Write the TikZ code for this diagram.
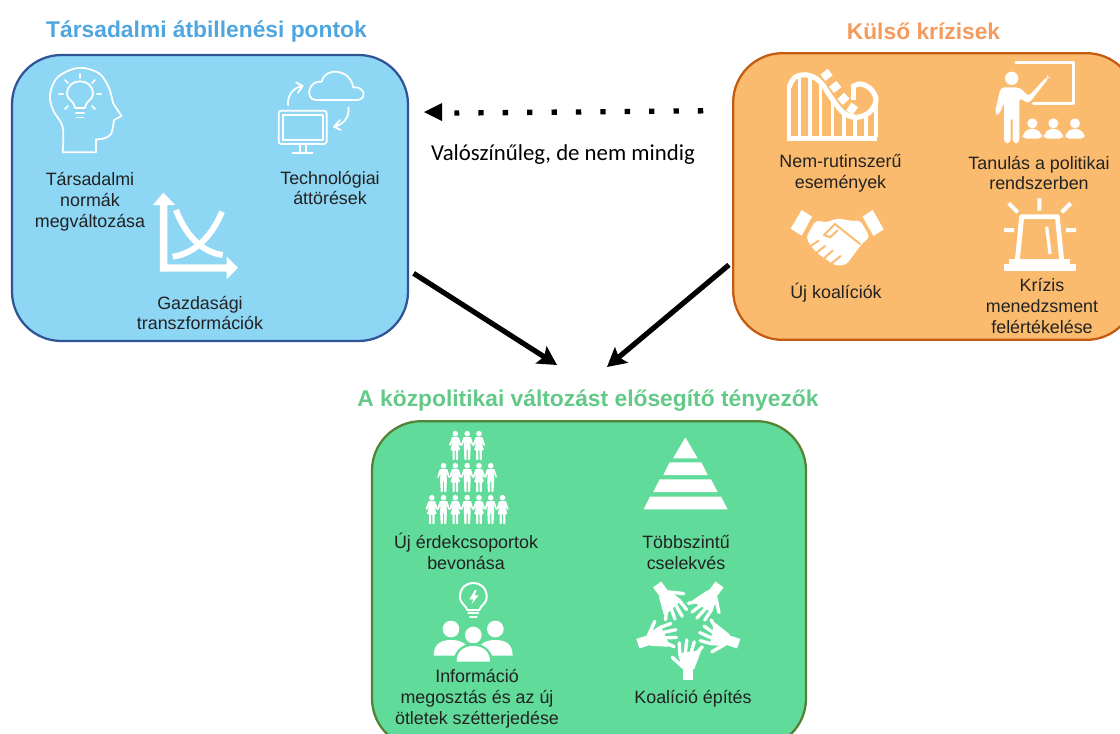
\documentclass[tikz,border=0pt]{standalone}
\usepackage{fontspec}
\setmainfont{Liberation Sans}
\newfontfamily\notefont{Carlito}
\usetikzlibrary{arrows.meta}
\definecolor{bluefill}{HTML}{8DD6F4}
\definecolor{blueline}{HTML}{2F5597}
\definecolor{bluetitle}{HTML}{4FA6DE}
\definecolor{orangefill}{HTML}{FBBB6F}
\definecolor{orangeline}{HTML}{C55A11}
\definecolor{orangetitle}{HTML}{F49A5C}
\definecolor{greenfill}{HTML}{60DB9A}
\definecolor{greenline}{HTML}{548235}
\definecolor{greentitle}{HTML}{62C987}
\definecolor{inktext}{HTML}{222222}
\tikzset{
  panel/.style={draw, line width=1.7pt, rounded corners=37pt},
  heading/.style={font=\fontsize{17.1}{20}\selectfont\bfseries},
  label/.style={align=center, text=inktext, font=\fontsize{13.4}{15.6}\selectfont, inner sep=0pt},
  icon/.style={draw=white, line width=1.3pt, line join=round, line cap=round},
  big arrow/.style={line width=3.9pt, -{Stealth[length=14pt,width=15pt,inset=2.5pt]}},
  zoomed/.style={scale=1/3},
  pics/man/.style={code={
    \fill[white] (0,-12.3) circle[radius=2.8];
    \fill[white, rounded corners=.6pt] (-6.4,-.5) -- (-3.8,-9) -- (3.8,-9) -- (6.4,-.5) -- (5,0) -- (3,-5) -- (3.4,2) -- (2.8,14) -- (.6,14) -- (.6,3) -- (-.6,3) -- (-.6,14) -- (-2.8,14) -- (-3.4,2) -- (-3,-5) -- (-5,0) -- cycle;
  }},
  pics/woman/.style={code={
    \fill[white] (0,-12.3) circle[radius=2.8];
    \fill[white, rounded corners=.6pt] (-6.4,-.5) -- (-3.4,-9) -- (3.4,-9) -- (6.4,-.5) -- (5,0) -- (2.4,-4) -- (5,4) -- (2.8,4) -- (2.8,14) -- (.6,14) -- (.6,4) -- (-.6,4) -- (-.6,14) -- (-2.8,14) -- (-2.8,4) -- (-5,4) -- (-2.4,-4) -- (-5,0) -- cycle;
  }},
  pics/hand/.style={code={
    \fill[white] (-5,41) rectangle (5,53);
    \fill[white, rounded corners=1.5pt] (-5.5,43) -- (-10.5,26) -- (13,23) -- (5.5,43) -- cycle;
    \draw[white, line width=2.5pt, line cap=round] (-8.5,27) -- (-9,15.5) (-3,26) -- (-1.5,12.5) (2.5,26) -- (6,14.5) (9,25) -- (14,19.5);
    \draw[white, line width=2.6pt, line cap=round] (-5,40) -- (-16,30);
  }},
}
\begin{document}
\begin{tikzpicture}[x=.75pt, y=-.75pt]
\useasboundingbox (0,0) rectangle (1120,733);
\clip (0,0) rectangle (1120,733);

% panels
\node (tipping) [panel, draw=blueline, fill=bluefill, minimum width=297pt, minimum height=214.5pt] at (210,198) {};
\node (crisis) [panel, draw=orangeline, fill=orangefill, minimum width=302pt, minimum height=215pt] at (934.5,196.5) {};
\node (policy) [panel, draw=greenline, fill=greenfill, minimum width=325.5pt, minimum height=245pt] at (589,584.5) {};

% headings
\node (tippingtitle) [heading, text=bluetitle] at (206.5,31.5) {Társadalmi átbillenési pontok};
\node (crisistitle) [heading, text=orangetitle] at (923.5,31.5) {Külső krízisek};
\node (policytitle) [heading, text=greentitle] at (588,401) {A közpolitikai változást elősegítő tényezők};

% connectors
\coordinate (goalleft) at (557,365);
\coordinate (goalright) at (607,367);
\draw[line width=4pt, dash pattern=on 4pt off 14.3pt, shorten <=21.6pt, shorten >=34pt] (crisis.157.2) -- (tipping.23.4);
\fill (442,103) -- (442,121) -- (424,112) -- cycle;
\node (maybe) [text=black, font=\notefont\fontsize{17.1}{19}\selectfont, inner sep=0pt] at (563,155) {Valószínűleg, de nem mindig};
\draw[big arrow, shorten <=4pt] (tipping.-20.7) -- (goalleft);
\draw[big arrow, shorten <=3pt] (crisis.198.8) -- (goalright);

% blue panel labels
\node (norms) [label] at (90,202) {Társadalmi\\normák\\megváltozása};
\node (tech) [label] at (330,188) {Technológiai\\áttörések};
\node (econ) [label] at (200,313) {Gazdasági\\transzformációk};

% head with bulb
\draw[icon] plot[smooth, tension=.55] coordinates {(62.7,152.3) (62.7,127) (53,110) (50,95) (56,79) (70,70) (84,68) (100,74) (109,88) (113,103)} -- (121.5,116) -- (114,120) -- (112.5,130) .. controls (112,136) and (106,139) .. (96,139.5) -- (96,152.3) -- cycle;
\draw[icon] (75,108) .. controls (74,100) and (67,100) .. (67,94) .. controls (67,77) and (93,77) .. (93,94) .. controls (93,100) and (86,100) .. (85,108) -- cycle;
\draw[icon] (76,113) -- (84,113) (77,117.5) -- (83,117.5);
\draw[icon] (80,74) -- (80,78) (65,80) -- (68,83) (95,80) -- (92,83) (59,94) -- (63,94) (101,94) -- (97,94) (65,109) -- (68,106) (95,109) -- (92,106);

% monitor and cloud
\begin{scope}[zoomed]
\draw[icon, rounded corners=2pt] (836,332) rectangle (980,432);
\draw[icon] (850,345) rectangle (968,420);
\draw[icon] (900,432) -- (900,458) (918,432) -- (918,458) (878,459) -- (938,459);
\draw[icon] (945,300) -- (1072,300) .. controls (1102,298) and (1095,258) .. (1060,262) .. controls (1050,205) and (975,200) .. (965,245) .. controls (925,240) and (915,295) .. (945,300);
\draw[icon] (864,315) .. controls (862,285) and (880,262) .. (908,258) (888,247) -- (908,258) -- (894,278);
\draw[icon] (1045,322) .. controls (1050,350) and (1030,375) .. (1002,380) (1020,360) -- (1002,380) -- (1022,390);
\end{scope}

% chart
\begin{scope}[zoomed]
\fill[white] (480,815) -- (480,615) -- (459,615) -- (490,578) -- (526,615) -- (502,615) -- (502,793) -- (680,793) -- (680,770) -- (714,803) -- (680,838) -- (680,815) -- cycle;
\draw[white, line width=4.5pt] (528,630) .. controls (555,700) and (600,755) .. (668,765);
\draw[white, line width=4.5pt] (518,770) .. controls (590,760) and (640,700) .. (666,635);
\end{scope}

% orange panel labels
\node (events) [label] at (840.5,173) {Nem-rutinszerű\\események};
\node (learning) [label] at (1039,173) {Tanulás a politikai\\rendszerben};
\node (coalition) [label] at (836,293) {Új koalíciók};
\node (management) [label] at (1042,306) {Krízis\\menedzsment\\felértékelése};

\begin{scope}[shift={(720,0)}, zoomed]
% roller coaster
\fill[white] (202,408) rectangle (472,423);
\foreach \sx/\sy in {207/255,238/228,270/228,302/250,338/300,372/345,405/350,438/345,468/300}
  \fill[white] (\sx-5,\sy) rectangle (\sx+5,410);
\draw[white, line width=3.8pt] plot[smooth, tension=.6] coordinates {(207,262) (225,232) (262,225) (300,245) (335,295) (370,338) (410,352) (450,335) (468,298) (450,265) (420,252) (395,262)};
\draw[white, line width=3.6pt] (400,262) -- (400,300);
\foreach \cx/\cy/\ca in {318/226/-52,344/262/-52,369/298/-48,395/328/-35}
  \fill[white, rotate around={\ca:(\cx,\cy)}] (\cx-12,\cy-16) rectangle (\cx+12,\cy+12);
% teacher
\draw[icon, line width=2.4pt] (888,187) -- (1060,187) -- (1060,310) -- (940,310);
\fill[white] (875,235) circle[radius=20];
\fill[white, rounded corners=3pt] (842,262) -- (900,262) -- (925,290) -- (982,228) -- (988,232) -- (925,312) -- (898,292) -- (898,430) -- (878,430) -- (878,350) -- (872,350) -- (872,430) -- (852,430) -- (852,305) -- (838,345) -- (824,342) -- cycle;
\foreach \ax in {937,1000,1065} {
  \fill[white] (\ax,370) circle[radius=15];
  \fill[white, rounded corners=3pt] (\ax-29,416) -- (\ax-29,402) -- (\ax-12,386) -- (\ax+12,386) -- (\ax+29,402) -- (\ax+29,416) -- cycle;
}
% handshake
\fill[white] (245,630) -- (276,650) -- (245,707) -- (212,686) -- cycle;
\fill[white] (458,630) -- (491,688) -- (460,708) -- (428,650) -- cycle;
\fill[white, rounded corners=3pt] (288,660) -- (318,668) -- (350,655) -- (405,664) -- (420,660) -- (450,712) -- (428,728) -- (378,795) -- (345,797) -- (325,782) -- (292,760) -- (270,735) -- (258,712) -- cycle;
\draw[orangefill, line width=1.5pt, line cap=round] (312,705) -- (345,672) -- (420,732);
\draw[orangefill, line width=1.5pt, line cap=round] (312,705) -- (330,712) -- (352,692);
\draw[orangefill, line width=1.5pt, line cap=round] (272,738) -- (296,722) (290,758) -- (315,738) (312,775) -- (338,752) (335,790) -- (362,768);
% beacon
\draw[white, line width=3pt] (958,595) -- (958,632) (866,610) -- (893,637) (1052,610) -- (1025,637) (852,690) -- (882,690) (1038,690) -- (1068,690);
\draw[white, line width=3.6pt, line join=round] (892,780) -- (905,650) -- (1012,650) -- (1025,780);
\draw[white, line width=2.4pt] (980,680) -- (990,762);
\fill[white] (868,776) rectangle (1050,792);
\fill[white] (852,792) rectangle (1068,813);
\end{scope}

% green panel labels
\node (groups) [label] at (466,551.5) {Új érdekcsoportok\\bevonása};
\node (levels) [label] at (686,552.5) {Többszintű\\cselekvés};
\node (sharing) [label] at (477,698.5) {Információ\\megosztás és az új\\ötletek szétterjedése};
\node (building) [label] at (693,699) {Koalíció építés};

% crowd pyramid
\pic at (455.3,446) {woman}; \pic at (467.2,446) {man}; \pic at (479,446) {woman};
\foreach \px in {443.5,467.2,490.7} \pic at (\px,478) {man};
\foreach \px in {455.3,479} \pic at (\px,478) {woman};
\foreach \px in {431.8,455.3,479,502.5} \pic at (\px,510) {woman};
\foreach \px in {443.5,467.2,490.7} \pic at (\px,510) {man};

% layered pyramid
\begin{scope}[shift={(360,410)}, zoomed]
\fill[white] (976,82) -- (1013,145) -- (939,145) -- cycle;
\fill[white] (929,157) -- (1024,157) -- (1043,195) -- (910,195) -- cycle;
\fill[white] (899,208) -- (1053,208) -- (1073,246) -- (880,246) -- cycle;
\fill[white] (870,260) -- (1083,260) -- (1103,298) -- (851,298) -- cycle;
% bulb and people
\draw[icon, line width=1.5pt] (322,600) .. controls (318,585) and (300,582) .. (300,560) .. controls (300,505) and (380,505) .. (380,560) .. controls (380,582) and (362,585) .. (358,600) -- cycle;
\fill[white] (345,540) -- (328,568) -- (340,568) -- (335,582) -- (356,556) -- (344,556) -- (350,540) -- cycle;
\draw[icon, line width=1.5pt] (325,610) -- (355,610) (330,621) -- (350,621);
\foreach \gx/\gy in {273/657,406/657,340/675} \fill[white] (\gx,\gy) circle[radius=25];
\fill[white] (221,737) .. controls (221,700) and (245,690) .. (273,690) .. controls (300,690) and (320,700) .. (325,715) -- (285,737) -- cycle;
\fill[white] (458,737) .. controls (458,700) and (434,690) .. (406,690) .. controls (380,690) and (360,700) .. (355,715) -- (395,737) -- cycle;
\fill[greenfill] (280,760) .. controls (280,725) and (305,700) .. (340,700) .. controls (375,700) and (400,725) .. (400,760) -- cycle;
\fill[white] (290,755) .. controls (290,725) and (310,708) .. (340,708) .. controls (370,708) and (390,725) .. (390,755) -- cycle;
\end{scope}

% ring of hands
\coordinate (ring) at (688.3,627.3);
\foreach \ang in {0,72,144,216,288} \pic[rotate=\ang] at (ring) {hand};
\end{tikzpicture}
\end{document}
